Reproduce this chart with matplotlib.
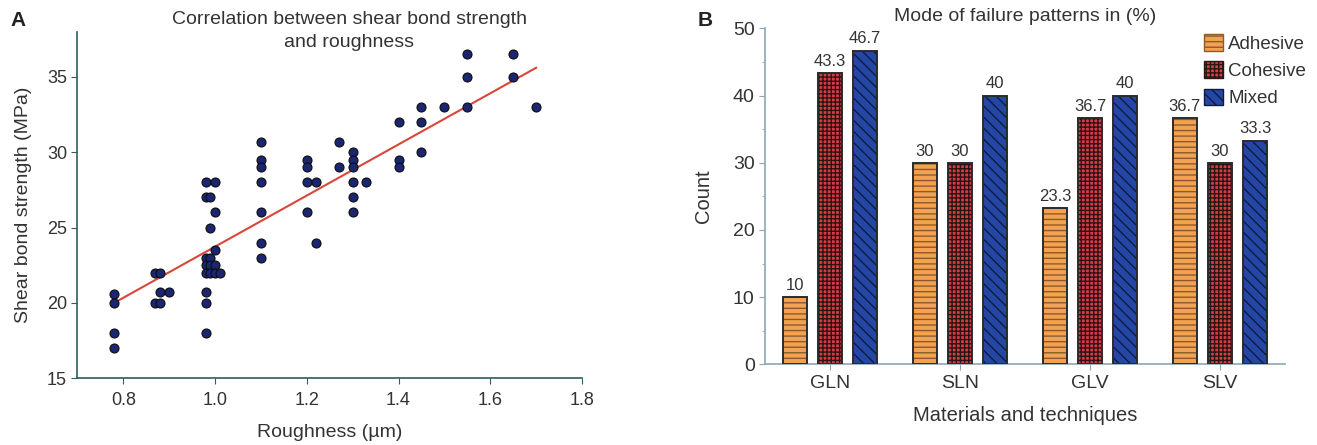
import numpy as np
import matplotlib
matplotlib.use("Agg")
import matplotlib.pyplot as plt
from matplotlib.patches import Patch

plt.rcParams['font.family'] = ['Liberation Sans', 'DejaVu Sans']
plt.rcParams['hatch.linewidth'] = 1.0

# ---- panel A data: roughness (um) vs shear bond strength (MPa)
roughness = [0.78, 0.78, 0.78, 0.78,
             0.87, 0.87, 0.88, 0.88, 0.88, 0.90,
             0.98, 0.98, 0.98, 0.98, 0.98, 0.98, 0.98, 0.98,
             0.99, 0.99, 0.99, 0.99, 0.99,
             1.00, 1.00, 1.00, 1.00, 1.00, 1.01,
             1.10, 1.10, 1.10, 1.10, 1.10, 1.10, 1.10,
             1.20, 1.20, 1.20, 1.20, 1.22, 1.22,
             1.27, 1.27,
             1.30, 1.30, 1.30, 1.30, 1.30, 1.30, 1.33,
             1.40, 1.40, 1.40, 1.45, 1.45, 1.45, 1.50,
             1.55, 1.55, 1.55, 1.65, 1.65, 1.70]
strength = [20.6, 20.0, 18.0, 17.0,
            22.0, 20.0, 22.0, 20.0, 20.7, 20.7,
            28.0, 27.0, 23.0, 22.5, 22.0, 20.7, 20.0, 18.0,
            27.0, 25.0, 23.0, 22.5, 22.0,
            28.0, 26.0, 23.5, 22.5, 22.0, 22.0,
            30.7, 29.5, 29.0, 28.0, 26.0, 24.0, 23.0,
            29.5, 29.0, 28.0, 26.0, 28.0, 24.0,
            30.7, 29.0,
            30.0, 29.5, 29.0, 28.0, 27.0, 26.0, 28.0,
            32.0, 29.5, 29.0, 33.0, 32.0, 30.0, 33.0,
            36.5, 35.0, 33.0, 36.5, 35.0, 33.0]
# fitted line as drawn in the figure (end points)
fit_x = [0.78, 1.70]
fit_y = [20.0, 35.6]

# ---- panel B data: mode of failure (%)
groups = ['GLN', 'SLN', 'GLV', 'SLV']
adhesive = [10, 30, 23.3, 36.7]
cohesive = [43.3, 30, 36.7, 30]
mixed = [46.7, 40, 40, 33.3]

text_col = '#333333'
fig = plt.figure(figsize=(13.17, 4.45), dpi=100)

# ================= A =================
ax1 = fig.add_axes([0.0588, 0.150, 0.3831, 0.779])
ax1.scatter(roughness, strength, s=42, marker='o', color='#1b2672',
            edgecolors='#0d0d0d', linewidths=0.8, zorder=3)
ax1.plot(fit_x, fit_y, color='#d9473a', lw=1.5, zorder=2)
ax1.set_xlim(0.7, 1.8)
ax1.set_ylim(15, 38)
ax1.set_xticks([0.8, 1.0, 1.2, 1.4, 1.6, 1.8])
ax1.set_xticklabels(['0.8', '1.0', '1.2', '1.4', '1.6', '1.8'])
ax1.set_yticks([15, 20, 25, 30, 35])
for s in ['top', 'right']:
    ax1.spines[s].set_visible(False)
for s in ['left', 'bottom']:
    ax1.spines[s].set_color('#2e5e62')
    ax1.spines[s].set_linewidth(1.2)
ax1.tick_params(colors='#2e5e62', labelcolor=text_col, labelsize=13, length=4)
ax1.tick_params(axis='x', pad=6)
ax1.set_xlabel('Roughness (\u00b5m)', fontsize=14, color=text_col, labelpad=11)
ax1.set_ylabel('Shear bond strength (MPa)', fontsize=14, color=text_col, labelpad=11)
fig.text(0.265, 0.930, 'Correlation between shear bond strength\nand roughness',
         ha='center', va='center', fontsize=14, color=text_col, linespacing=1.45)
fig.text(0.008, 0.955, 'A', fontsize=15, fontweight='bold', color='#222222', va='center')

# ================= B =================
ax2 = fig.add_axes([0.5809, 0.1813, 0.3948, 0.755])
x = np.arange(len(groups))
w = 0.188
step = 0.27
series = [
    ('Adhesive', adhesive, '#f3a251', '#8c5a2c', '---'),
    ('Cohesive', cohesive, '#d93a44', '#2a1414', '++++'),
    ('Mixed', mixed, '#2447a6', '#101a40', '\\\\\\'),
]
handles = []
for i, (name, vals, fc, hc, hatch) in enumerate(series):
    pos = x + (i - 1) * step
    ax2.bar(pos, vals, width=w, color=fc, edgecolor=hc, hatch=hatch, lw=0, zorder=2)
    bars = ax2.bar(pos, vals, width=w, fill=False, edgecolor='#2b2b2b', lw=1.4, zorder=3)
    ax2.bar_label(bars, labels=['%g' % v for v in vals], padding=3,
                  fontsize=12, color=text_col,
                  family=['Liberation Sans Narrow', 'Liberation Sans'])
    handles.append(Patch(facecolor=fc, edgecolor=hc, hatch=hatch, label=name))

ax2.set_xlim(-0.5, 3.5)
ax2.set_ylim(0, 50)
ax2.set_xticks(x)
ax2.set_xticklabels(groups)
ax2.set_yticks(range(0, 51, 10))
ax2.set_yticks(range(5, 50, 10), minor=True)
for s in ['top', 'right']:
    ax2.spines[s].set_visible(False)
for s in ['left', 'bottom']:
    ax2.spines[s].set_color('#8fa6b8')
    ax2.spines[s].set_linewidth(1.2)
ax2.tick_params(colors='#8fa6b8', labelcolor=text_col, labelsize=14, length=4)
ax2.tick_params(which='minor', colors='#8fa6b8', length=2)
for lab in ax2.get_xticklabels() + ax2.get_yticklabels():
    lab.set_family(['Liberation Sans Narrow', 'Liberation Sans'])
ax2.set_xlabel('Materials and techniques', fontsize=14.5, color=text_col, labelpad=10,
               family=['Liberation Sans Narrow', 'Liberation Sans'])
ax2.set_ylabel('Count', fontsize=14.5, color=text_col, labelpad=14,
               family=['Liberation Sans Narrow', 'Liberation Sans'])
ax2.set_title('Mode of failure patterns in (%)', fontsize=14, color=text_col, pad=5,
              family=['Liberation Sans Narrow', 'Liberation Sans'])
leg = ax2.legend(handles=handles, loc='upper right', bbox_to_anchor=(1.055, 1.005),
                 frameon=False, handlelength=1.0, handleheight=1.0,
                 handletextpad=0.3, labelspacing=0.45, borderaxespad=0,
                 prop={'family': ['Liberation Sans Narrow', 'Liberation Sans'], 'size': 13.5})
for t in leg.get_texts():
    t.set_color(text_col)
fig.text(0.530, 0.955, 'B', fontsize=15, fontweight='bold', color='#222222', va='center')

fig.savefig('out.png', dpi=100)
